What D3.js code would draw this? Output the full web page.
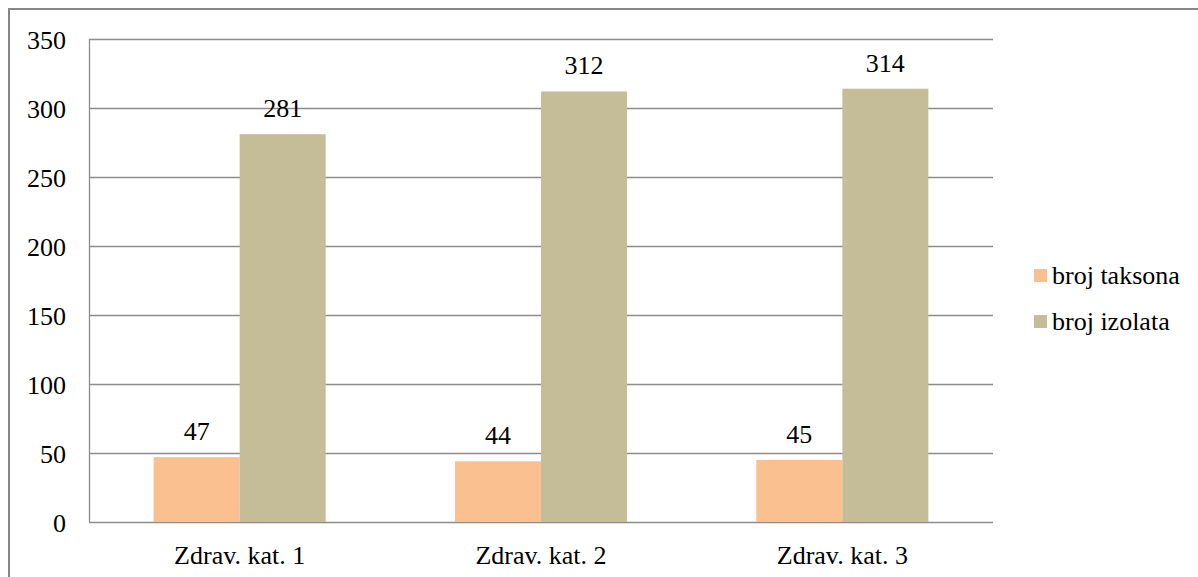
<!DOCTYPE html>
<html lang="en">
<head>
  <meta charset="utf-8">
  <title>Broj taksona i izolata</title>
  <script src="https://d3js.org/d3.v7.js"></script>
  <style>
    body { margin: 0; background: #fff; }
  </style>
</head>
<body>
  <div id="my_dataviz"></div>

  <script>
    // Data
    var categories = ["Zdrav. kat. 1", "Zdrav. kat. 2", "Zdrav. kat. 3"];
    var seriesNames = ["broj taksona", "broj izolata"];
    var taksona = [47, 44, 45];
    var izolata = [281, 312, 314];
    var yTicks = [0, 50, 100, 150, 200, 250, 300, 350];
    var colors = ["#FAC090", "#C4BD97"];

    var seriesValues = [taksona, izolata];

    var W = 1198, H = 577;
    var margin = {top: 39, left: 89, right: 205, bottom: 55};
    var plotRight = W - margin.right, plotBottom = H - margin.bottom;
    var font = "'Liberation Serif', 'Tinos', 'Times New Roman', 'DejaVu Serif', serif";
    var fontSize = 26;

    var svg = d3.select("#my_dataviz")
      .append("svg")
      .attr("width", W)
      .attr("height", H);

    // Outer chart border (runs off the right and bottom edges)
    svg.append("rect")
      .attr("x", 9).attr("y", 9)
      .attr("width", W + 20).attr("height", H + 20)
      .attr("fill", "none")
      .attr("stroke", "#878787")
      .attr("stroke-width", 2);

    // Scales
    var x = d3.scaleBand()
      .domain(categories)
      .range([margin.left, plotRight])
      .paddingInner(0.429)
      .paddingOuter(0.2145);

    var xSub = d3.scaleBand()
      .domain(seriesNames)
      .range([0, x.bandwidth()]);

    var y = d3.scaleLinear()
      .domain([0, 350])
      .range([plotBottom, margin.top]);

    // Gridlines
    svg.append("g")
      .selectAll("line")
      .data(yTicks)
      .join("line")
      .attr("x1", margin.left)
      .attr("x2", plotRight)
      .attr("y1", function(d) { return Math.round(y(d)) + 0.5; })
      .attr("y2", function(d) { return Math.round(y(d)) + 0.5; })
      .attr("stroke", "#8c8c8c")
      .attr("stroke-width", 1.3);

    // Left axis line
    svg.append("line")
      .attr("x1", margin.left + 0.5).attr("x2", margin.left + 0.5)
      .attr("y1", y(350)).attr("y2", y(0))
      .attr("stroke", "#8c8c8c")
      .attr("stroke-width", 1.3);

    // Y labels
    var yAxis = svg.append("g")
      .attr("transform", "translate(" + (margin.left - 23) + ",0)")
      .call(d3.axisLeft(y).tickValues(yTicks).tickSize(0).tickPadding(0));
    yAxis.select(".domain").remove();
    yAxis.attr("font-family", font).attr("font-size", fontSize);
    yAxis.selectAll("text")
      .style("font-family", font)
      .style("font-size", fontSize + "px")
      .attr("fill", "#000")
      .attr("dy", "0.35em");

    // X labels
    var xAxis = svg.append("g")
      .attr("transform", "translate(0," + plotBottom + ")")
      .call(d3.axisBottom(x).tickSize(0).tickPadding(0));
    xAxis.select(".domain").remove();
    xAxis.attr("font-family", font).attr("font-size", fontSize);
    xAxis.selectAll("text")
      .attr("dy", null)
      .attr("y", 42)
      .attr("fill", "#000")
      .style("font-family", font)
      .style("font-size", fontSize + "px");

    // Bars
    var groups = svg.append("g")
      .selectAll("g")
      .data(seriesNames)
      .join("g");

    groups.selectAll("rect")
      .data(function(s, si) {
        return categories.map(function(c, ci) { return {cat: c, series: s, value: seriesValues[si][ci]}; });
      })
      .join("rect")
      .attr("x", function(d) { return x(d.cat) + xSub(d.series); })
      .attr("y", function(d) { return y(d.value); })
      .attr("width", xSub.bandwidth())
      .attr("height", function(d) { return y(0) - y(d.value); })
      .attr("fill", function(d) { return colors[seriesNames.indexOf(d.series)]; });

    // Value labels
    groups.selectAll("text")
      .data(function(s, si) {
        return categories.map(function(c, ci) { return {cat: c, series: s, value: seriesValues[si][ci]}; });
      })
      .join("text")
      .attr("x", function(d) { return x(d.cat) + xSub(d.series) + xSub.bandwidth() / 2; })
      .attr("y", function(d) { return y(d.value) - 17; })
      .attr("text-anchor", "middle")
      .attr("fill", "#000")
      .style("font-family", font)
      .style("font-size", fontSize + "px")
      .text(function(d) { return d.value; });

    // Legend
    var legend = svg.append("g")
      .selectAll("g")
      .data(seriesNames)
      .join("g")
      .attr("transform", function(d, i) { return "translate(1034," + (269 + i * 46) + ")"; });
    legend.append("rect")
      .attr("width", 13).attr("height", 13)
      .attr("fill", function(d, i) { return colors[i]; });
    legend.append("text")
      .attr("x", 18).attr("y", 15)
      .attr("fill", "#000")
      .style("font-family", font)
      .style("font-size", fontSize + "px")
      .text(function(d) { return d; });
  </script>
</body>
</html>
